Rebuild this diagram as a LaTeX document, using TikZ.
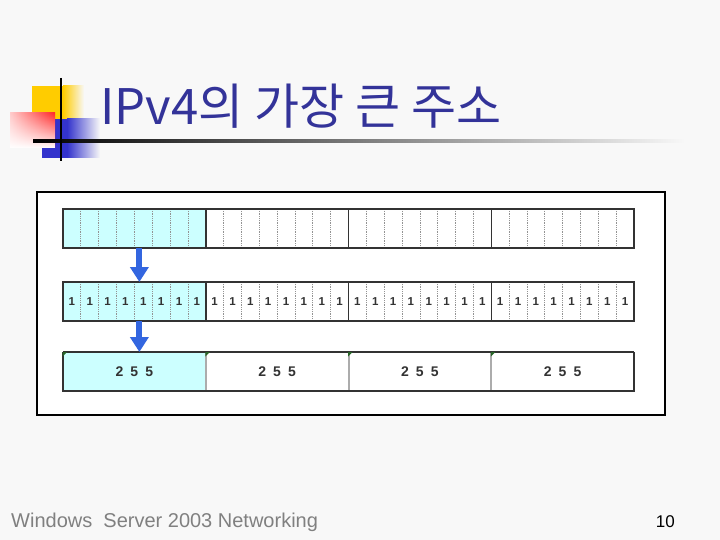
\documentclass[tikz,border=0pt]{standalone}
\usepackage{fontspec}
\setmainfont{Liberation Sans}
\newfontfamily\kr{Noto Sans CJK KR}
\usetikzlibrary{arrows.meta,fadings}
\definecolor{bgc}{RGB}{248,248,248}
\definecolor{yelc}{RGB}{255,204,0}
\definecolor{bluec}{RGB}{51,51,204}
\definecolor{redc}{RGB}{255,40,40}
\definecolor{titlec}{RGB}{51,51,153}
\definecolor{cyanc}{RGB}{204,255,255}
\definecolor{darkc}{RGB}{51,51,51}
\definecolor{arrowc}{RGB}{51,102,224}
\definecolor{footc}{RGB}{128,128,128}
\definecolor{markc}{RGB}{40,100,40}
\tikzset{
  octet/.style={draw=none, minimum width=142.75pt, minimum height=39pt, inner sep=0pt, outer sep=0pt},
  divider/.style={draw=gray!85, line width=0.7pt, dash pattern=on 1pt off 0.8pt},
  octsep/.style={draw=darkc, line width=1.5pt},
  rowborder/.style={draw=darkc, line width=2.2pt},
  onebit/.style={font=\bfseries\fontsize{11.5}{11.5}\selectfont, text=darkc, inner sep=0pt},
  bignum/.style={font=\bfseries\fontsize{14}{14}\selectfont, text=darkc, inner sep=0pt},
  bluearrow/.style={draw=arrowc, line width=6pt, -{Triangle[width=18pt,length=15pt]}}
}
\begin{document}
\begin{tikzpicture}[x=1pt,y=-1pt]
\useasboundingbox (0,0) rectangle (720,540);
\fill[bgc] (0,0) rectangle (720,540);

% decoration
\fill[yelc] (32,86) rectangle (63,125);
\shade[left color=yelc, right color=bgc] (63,86) rectangle (84,125);
\fill[bluec] (42,119) rectangle (67,158);
\shade[left color=bluec, right color=bgc] (67,119) rectangle (100,158);
\shade[left color=red!20!white, right color=redc] (10,113) rectangle (55,148);
\fill[white, path fading=north] (10,113) rectangle (55,148);
\shade[left color=black, middle color=black!45, right color=bgc] (33,139.8) rectangle (685,142.3);
\draw[black, line width=2.5pt] (61,78) -- (61,161);

% title
\node[anchor=base west, inner sep=0pt, text=titlec, font=\kr\fontsize{49}{49}\selectfont] (title) at (100,125) {IPv4의 가장 큰 주소};

% frame
\node[draw=black, line width=1.3pt, fill=white, minimum width=628pt, minimum height=223pt, inner sep=0pt] (frame) at (351,303.5) {};

% octets
\foreach \r/\y in {1/228.5, 2/301.5, 3/371.5} {
  \foreach \o/\f in {1/cyanc, 2/white, 3/white, 4/white} {
    \node[octet, fill=\f] (r\r o\o) at ({63+142.75*(\o-0.5)},\y) {};
  }
}
% dividers and bits
\foreach \r in {1,2} {
  \foreach \o in {1,...,4} {
    \foreach \k in {1,...,7} {
      \draw[divider] ([xshift=\k*17.84pt]r\r o\o.north west) -- ([xshift=\k*17.84pt]r\r o\o.south west);
    }
  }
  \foreach \o in {1,2,3} {
    \draw[octsep] (r\r o\o.north east) -- (r\r o\o.south east);
  }
  \draw[rowborder] (r\r o1.north west) rectangle (r\r o4.south east);
}
\foreach \o in {1,...,4} {
  \foreach \k in {1,...,8} {
    \node[onebit] (b\o-\k) at ([xshift=(\k-0.5)*17.84pt]r2o\o.west) {1};
  }
  \node[bignum] (n\o) at (r3o\o) {2\hspace{7pt}5\hspace{7pt}5};
}
% row 3
\foreach \o in {1,2,3} {
  \draw[draw=gray!65, line width=2pt] (r3o\o.north east) -- (r3o\o.south east);
}
\draw[draw=darkc, line width=1.2pt] (r3o1.north west) -- (r3o4.north east);
\draw[draw=darkc, line width=2.2pt] (r3o1.north west) -- (r3o1.south west) -- (r3o4.south west) -- (r3o4.south east) -- (r3o4.north east);
\foreach \o in {1,...,4} {
  \fill[markc] ([xshift=-0.5pt]r3o\o.north west) -- ++(4.5,0) -- ++(-4.5,4.5) -- cycle;
}

% arrows
\draw[bluearrow] ([xshift=5pt]r1o1.south) -- ([xshift=5pt]r2o1.north);
\draw[bluearrow] ([xshift=5pt]r2o1.south) -- ([xshift=5pt]r3o1.north);

% footer
\node[anchor=base west, inner sep=0pt, text=footc, font=\fontsize{20}{20}\selectfont] (foot) at (11,527) {Windows\ \ Server 2003 Networking};
\node[anchor=base east, inner sep=0pt, text=black, font=\fontsize{17}{17}\selectfont] (page) at (675,527) {10};
\end{tikzpicture}
\end{document}
